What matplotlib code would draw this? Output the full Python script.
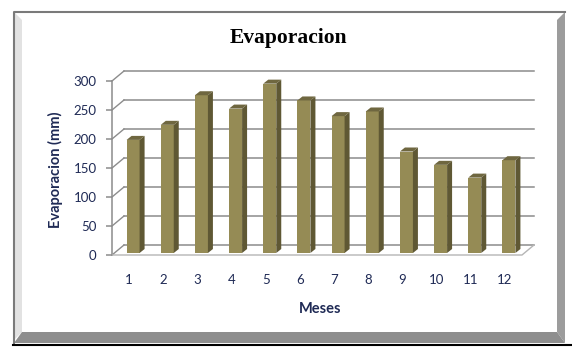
import matplotlib
matplotlib.use("Agg")
import matplotlib.pyplot as plt
from matplotlib.patches import Polygon, Rectangle
import numpy as np

# datos
meses = [1, 2, 3, 4, 5, 6, 7, 8, 9, 10, 11, 12]
evaporacion = [195, 221, 272, 249, 292, 263, 236, 244, 175, 152, 130, 160]
yticks = [0, 50, 100, 150, 200, 250, 300]

W, H = 572, 355
L, R, B, T = 112, 522, 255, 81   # plano frontal en pixeles

navy = "#1F2A55"
grid = "#8C8C8C"

fig = plt.figure(figsize=(W / 100, H / 100), dpi=100)
fig.patch.set_facecolor("white")

def fp(x, y):
    # pixel (desde arriba) -> coordenadas de figura
    return (x / W, 1 - y / H)

# marco con bisel
fig.patches.append(Polygon([fp(14, 12), fp(22, 20), fp(22, 332), fp(14, 340)], closed=True,
                           transform=fig.transFigure, facecolor="#E2E2E2", edgecolor="none", zorder=-1))
fig.patches.append(Polygon([fp(565, 12), fp(557, 20), fp(557, 332), fp(565, 343)], closed=True,
                           transform=fig.transFigure, facecolor="#9C9C9C", edgecolor="none", zorder=-1))
fig.patches.append(Polygon([fp(14, 343), fp(22, 332), fp(557, 332), fp(565, 343)], closed=True,
                           transform=fig.transFigure, facecolor="#8E8E8E", edgecolor="none", zorder=-1))
fig.lines.append(plt.Line2D([14 / W, 14 / W, 565 / W], [1 - 343 / H, 1 - 12 / H, 1 - 12 / H],
                            transform=fig.transFigure, color="#7A7A7A", lw=1.5))
fig.lines.append(plt.Line2D([13 / W, 572 / W], [1 - 344.5 / H, 1 - 344.5 / H],
                            transform=fig.transFigure, color="black", lw=1.5))

ax = fig.add_axes([L / W, 1 - B / H, (R - L) / W, (B - T) / H])
ax.set_xlim(0.5, 12.5)
ax.set_ylim(0, 300)
ax.patch.set_alpha(0)
for s in ax.spines.values():
    s.set_visible(False)

sx = (R - L) / 12.0
sy = (B - T) / 300.0

def off(dx, dy):
    return dx / sx, dy / sy

# paredes y piso
bx, by = off(12, 10)
for v in yticks:
    ax.plot([0.5 + bx, 12.5 + bx], [v + by, v + by], color=grid, lw=1.1, clip_on=False, zorder=1)
    ax.plot([0.5, 0.5 + bx], [v, v + by], color=grid, lw=1.0, clip_on=False, zorder=1)
ax.plot([0.5, 0.5], [0, 300], color=grid, lw=1.1, clip_on=False, zorder=1)
ax.plot([0.5, 12.5, 12.5 + bx], [0, 0, by], color="#B5B5B5", lw=1.0, clip_on=False, zorder=1)

# barras 3d
fx, fy = off(4, 2)
dx, dy = off(5, 4)
w = 13 / sx
for m, v in zip(meses, evaporacion):
    xl = m - w / 2 + fx
    xr = m + w / 2 + fx
    ax.add_patch(Rectangle((xl, fy), w, v, facecolor="#958B55", edgecolor="none", zorder=3, clip_on=False))
    ax.add_patch(Polygon([(xr, fy), (xr + dx, fy + dy), (xr + dx, v + fy + dy), (xr, v + fy)],
                         facecolor="#5F5834", edgecolor="none", zorder=3, clip_on=False))
    ax.add_patch(Polygon([(xl, v + fy), (xr, v + fy), (xr + dx, v + fy + dy), (xl + dx, v + fy + dy)],
                         facecolor="#6F6740", edgecolor="none", zorder=3, clip_on=False))

ax.set_xticks(meses)
ax.set_xticklabels([str(m) for m in meses])
ax.set_yticks(yticks)
ax.tick_params(axis="x", length=0, pad=14, labelsize=9.5, labelcolor=navy)
ax.tick_params(axis="y", length=4, width=1.1, color=grid, pad=7, labelsize=9.5, labelcolor=navy)
for lab in ax.get_xticklabels() + ax.get_yticklabels():
    lab.set_family(["Lato", "DejaVu Sans"])

ax.set_xlabel("Meses", fontsize=10.5, fontweight="bold", color=navy, family=["Lato", "DejaVu Sans"])
ax.set_ylabel("Evaporacion (mm)", fontsize=10.5, fontweight="bold", color=navy, family=["Lato", "DejaVu Sans"])
ax.xaxis.set_label_coords((320 - L) / (R - L), -(302 - B) / (B - T))
ax.yaxis.set_label_coords((63 - L) / (R - L), (B - 170) / (B - T))

fig.text(289 / W, 1 - 43 / H, "Evaporacion", ha="center", va="baseline", fontsize=15.5,
         fontweight="bold", family=["Liberation Serif", "DejaVu Serif"], color="black")

fig.savefig("out.png", dpi=100)
